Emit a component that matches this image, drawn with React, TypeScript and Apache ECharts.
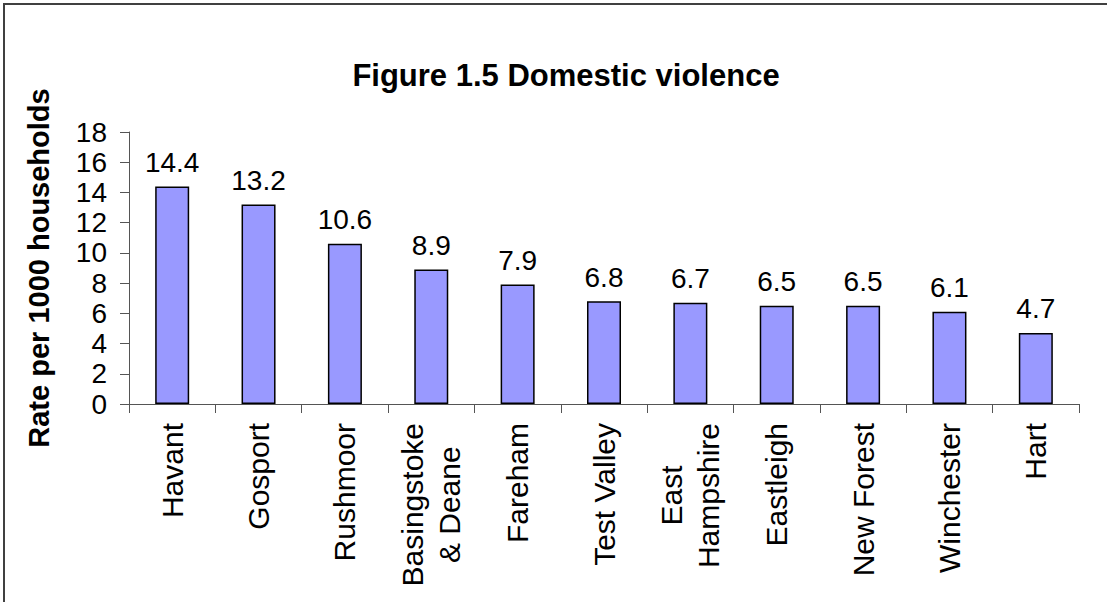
import React, { useEffect, useRef } from "react";
import * as echarts from "echarts";

const categories = [
  "Havant",
  "Gosport",
  "Rushmoor",
  "Basingstoke\n& Deane",
  "Fareham",
  "Test Valley",
  "East\nHampshire",
  "Eastleigh",
  "New Forest",
  "Winchester",
  "Hart",
];
const rates = [14.4, 13.2, 10.6, 8.9, 7.9, 6.8, 6.7, 6.5, 6.5, 6.1, 4.7];
const yTicks = { min: 0, max: 18, interval: 2 };
const titleText = "Figure 1.5 Domestic violence";
const yAxisName = "Rate per 1000 households";

const FONT = "'Liberation Sans', Arial, sans-serif";

export default function App() {
  const ref = useRef<HTMLDivElement>(null);
  useEffect(() => {
    if (!ref.current) return;
    const chart = echarts.init(ref.current, undefined, { renderer: "svg" });
    chart.setOption({
      animation: false,
      backgroundColor: "#ffffff",
      title: {
        text: titleText,
        left: 561,
        top: 55,
        textAlign: "center",
        textStyle: { fontFamily: FONT, fontSize: 31, fontWeight: "bold", color: "#000" },
      },
      graphic: [
        {
          type: "rect",
          shape: { x: 4, y: 4, width: 1200, height: 700 },
          style: { fill: "none", stroke: "#404040", lineWidth: 2 },
          silent: true,
        },
      ],
      grid: { left: 129, top: 132, right: 28, bottom: 198, containLabel: false },
      xAxis: {
        type: "category",
        data: categories,
        axisLine: { show: true, lineStyle: { color: "#555", width: 1 } },
        axisTick: { show: true, alignWithLabel: false, length: 9, lineStyle: { color: "#555" } },
        axisLabel: {
          rotate: 90,
          interval: 0,
          margin: 19,
          color: "#000",
          fontFamily: FONT,
          fontSize: 30,
          formatter: (v: string) => v.split("\n").map((s) => "{c|" + s + "}").join("\n"),
          rich: { c: { align: "center", fontFamily: FONT, fontSize: 30, color: "#000", lineHeight: 37 } },
        },
      },
      yAxis: {
        type: "value",
        min: yTicks.min,
        max: yTicks.max,
        interval: yTicks.interval,
        name: yAxisName,
        nameLocation: "middle",
        nameRotate: 90,
        nameGap: 76,
        nameTextStyle: { fontFamily: FONT, fontSize: 29, fontWeight: "bold", color: "#000" },
        axisLine: { show: true, lineStyle: { color: "#555", width: 1 } },
        axisTick: { show: true, length: 9, lineStyle: { color: "#555" } },
        splitLine: { show: false },
        axisLabel: { margin: 22, color: "#000", fontFamily: FONT, fontSize: 28 },
      },
      series: [
        {
          type: "bar",
          data: rates,
          barWidth: 34,
          itemStyle: { color: "#9999FF", borderColor: "#000", borderWidth: 1.5 },
          label: {
            show: true,
            position: "top",
            distance: 10,
            color: "#000",
            fontFamily: FONT,
            fontSize: 28,
            formatter: (p: any) => Number(p.value).toFixed(1),
          },
        },
      ],
    });
    return () => chart.dispose();
  }, []);
  return (
    <div
      ref={ref}
      style={{ position: "fixed", left: 0, top: 0, width: 1107, height: 602, background: "#fff" }}
    />
  );
}
